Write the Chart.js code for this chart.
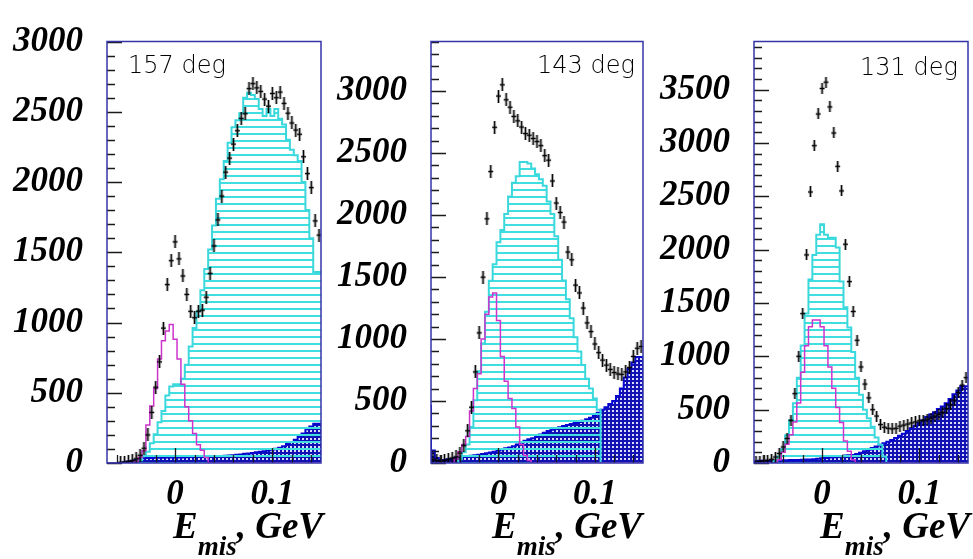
<!DOCTYPE html>
<html>
<head>
<meta charset="utf-8">
<script src="https://cdn.jsdelivr.net/npm/chart.js@4.4.1/dist/chart.umd.min.js"></script>
<style>
  body { margin: 0; background: #fff; }
  #lienzo { position: relative; width: 973px; height: 559px; overflow: hidden; background: #fff; }
  canvas { position: absolute; top: 0; }
  .angulo { position: absolute; font: 300 24px "DejaVu Sans", sans-serif; line-height: 1; color: #000; white-space: nowrap; }
  .titulo { position: absolute; top: 507px; font: italic bold 37px "Liberation Serif", serif; line-height: 1; color: #000; white-space: nowrap; }
  .titulo span { font-size: 27px; vertical-align: -17px; }
</style>
</head>
<body>
<div id="lienzo">
  <canvas id="c157" width="326" height="559" style="left:0px"></canvas>
  <canvas id="c143" width="322" height="559" style="left:326px"></canvas>
  <canvas id="c131" width="325" height="559" style="left:648px"></canvas>
  <div class="angulo" style="left:128px; top:53px">157 deg</div>
  <div class="angulo" style="left:537px; top:53px">143 deg</div>
  <div class="angulo" style="left:860px; top:55px">131 deg</div>
  <div class="titulo" style="right:650px">E<span>mis</span>, GeV</div>
  <div class="titulo" style="right:331px">E<span>mis</span>, GeV</div>
  <div class="titulo" style="right:3px">E<span>mis</span>, GeV</div>
</div>
<script>
// bins de E_mis: 55 bins de 0.004 GeV entre -0.07 y 0.15
const binLo = -0.07;
const binW = 0.004;
const xTicks = [0, 0.1];

// 157 deg
const datos157 = [0, 0, 0, 3, 6, 10, 18, 30, 55, 105, 200, 360, 540, 720, 960, 1270, 1440, 1574, 1453, 1331, 1200, 1080, 1034, 1080, 1088, 1180, 1350, 1545, 1730, 1900, 2070, 2170, 2270, 2365, 2453, 2486, 2665, 2700, 2670, 2645, 2590, 2540, 2630, 2600, 2640, 2560, 2490, 2420, 2370, 2340, 2180, 2060, 1960, 1723, 1622];
const ancho157 = [0, 0, 0, 0, 0, 0, 0, 0, 5, 20, 50, 80, 140, 205, 290, 370, 480, 545, 560, 560, 600, 700, 830, 960, 1080, 1230, 1380, 1520, 1690, 1880, 2020, 2150, 2280, 2390, 2440, 2490, 2600, 2635, 2620, 2590, 2520, 2470, 2520, 2470, 2520, 2450, 2410, 2300, 2230, 2190, 2150, 2000, 1800, 1600, 1360];
const pico157 = [0, 0, 0, 0, 0, 0, 0, 0, 10, 40, 88, 270, 405, 530, 740, 870, 940, 985, 880, 740, 560, 400, 300, 210, 130, 90, 40, 0, 0, 0, 0, 0, 0, 0, 0, 0, 0, 0, 0, 0, 0, 0, 0, 0, 0, 0, 0, 0, 0, 0, 0, 0, 0, 0, 0];
const fondo157 = [0, 0, 0, 0, 2, 5, 10, 15, 22, 28, 33, 35, 36, 37, 38, 38, 39, 40, 40, 40, 40, 41, 42, 43, 44, 45, 46, 47, 48, 49, 50, 52, 54, 56, 58, 60, 65, 68, 72, 76, 80, 84, 90, 96, 102, 108, 120, 135, 150, 165, 185, 210, 240, 260, 280];
const yTicks157 = [0, 500, 1000, 1500, 2000, 2500, 3000];

// 143 deg
const datos143 = [30, 20, 15, 20, 30, 40, 50, 80, 140, 260, 450, 735, 1050, 1499, 1970, 2351, 2708, 2960, 3051, 2930, 2870, 2796, 2760, 2710, 2657, 2644, 2618, 2593, 2560, 2479, 2443, 2275, 2097, 2021, 1944, 1702, 1639, 1435, 1372, 1250, 1130, 1060, 960, 890, 830, 790, 755, 730, 718, 715, 735, 770, 860, 926, 940];
const ancho143 = [0, 0, 0, 0, 0, 0, 0, 0, 30, 86, 150, 290, 506, 740, 964, 1221, 1470, 1603, 1780, 1880, 2008, 2150, 2260, 2313, 2427, 2427, 2415, 2376, 2330, 2288, 2237, 2109, 2008, 1830, 1640, 1473, 1321, 1168, 1015, 900, 790, 680, 600, 520, 430, 0, 0, 0, 0, 0, 0, 0, 0, 0, 0];
const pico143 = [0, 0, 0, 0, 0, 0, 0, 30, 90, 150, 214, 420, 600, 720, 1000, 1200, 1340, 1372, 1150, 860, 660, 520, 440, 290, 150, 60, 20, 0, 0, 0, 0, 0, 0, 0, 0, 0, 0, 0, 0, 0, 0, 0, 0, 0, 0, 0, 0, 0, 0, 0, 0, 0, 0, 0, 0];
const fondo143 = [470, 100, 40, 25, 25, 30, 35, 40, 45, 50, 55, 58, 62, 66, 72, 78, 84, 90, 100, 110, 118, 125, 135, 150, 165, 180, 192, 200, 215, 230, 245, 258, 268, 278, 288, 298, 306, 314, 322, 330, 340, 352, 365, 385, 405, 430, 450, 475, 500, 540, 600, 690, 760, 810, 855];
const yTicks143 = [0, 500, 1000, 1500, 2000, 2500, 3000];

// 131 deg
const datos131 = [10, 15, 20, 25, 35, 56, 90, 150, 230, 400, 650, 1000, 1400, 1950, 2540, 2974, 3271, 3510, 3569, 3337, 3093, 2780, 2550, 2050, 1700, 1420, 1150, 900, 740, 610, 500, 440, 360, 335, 325, 320, 325, 345, 355, 365, 375, 385, 395, 400, 410, 420, 440, 455, 475, 510, 545, 590, 660, 730, 800];
const ancho131 = [0, 0, 0, 0, 0, 0, 20, 60, 130, 260, 400, 560, 800, 1100, 1400, 1720, 1950, 2140, 2238, 2140, 2110, 2110, 2020, 1700, 1460, 1270, 1040, 800, 640, 500, 420, 340, 240, 170, 60, 0, 0, 0, 0, 0, 0, 0, 0, 0, 0, 0, 0, 0, 0, 0, 0, 0, 0, 0, 0];
const pico131 = [0, 0, 0, 0, 0, 0, 0, 30, 101, 176, 265, 384, 563, 850, 1098, 1277, 1340, 1340, 1277, 1098, 900, 700, 520, 380, 205, 110, 30, 0, 0, 0, 0, 0, 0, 0, 0, 0, 0, 0, 0, 0, 0, 0, 0, 0, 0, 0, 0, 0, 0, 0, 0, 0, 0, 0, 0];
const fondo131 = [10, 15, 20, 20, 20, 22, 23, 24, 25, 26, 27, 28, 29, 30, 32, 33, 35, 40, 45, 48, 52, 55, 60, 65, 70, 72, 75, 85, 95, 110, 125, 140, 155, 170, 185, 200, 215, 235, 255, 275, 300, 325, 350, 375, 400, 430, 455, 475, 505, 530, 560, 600, 645, 680, 720];
const yTicks131 = [0, 500, 1000, 1500, 2000, 2500, 3000, 3500];

const fuenteEjes = { family: '"Liberation Serif", "Times New Roman", serif', size: 35, style: 'italic', weight: 'bold', lineHeight: 1 };

// tramas de relleno
function tramaHorizontal() {
    const c = document.createElement('canvas');
    c.width = 8; c.height = 7;
    const g = c.getContext('2d');
    g.fillStyle = '#40dede';
    g.fillRect(0, 0, 8, 2);
    return g.createPattern(c, 'repeat');
}

function tramaRejilla() {
    const c = document.createElement('canvas');
    c.width = 4; c.height = 4;
    const g = c.getContext('2d');
    g.fillStyle = '#1212b4';
    g.fillRect(0, 0, 4, 4);
    g.fillStyle = '#dcdcf8';
    g.fillRect(2, 2, 2, 2);
    return g.createPattern(c, 'repeat');
}

function hacerCruz(alto) {
    const c = document.createElement('canvas');
    c.width = 7; c.height = alto;
    const g = c.getContext('2d');
    g.strokeStyle = '#000';
    g.lineWidth = 1.7;
    g.beginPath();
    g.moveTo(3.5, 0); g.lineTo(3.5, alto);
    g.moveTo(1, alto / 2); g.lineTo(6, alto / 2);
    g.stroke();
    return c;
}

// histograma -> puntos en los bordes de los bins (stepped 'after')
function pasos(arr) {
    const pts = arr.map((v, i) => ({ x: binLo + i * binW, y: v }));
    pts.push({ x: binLo + arr.length * binW, y: arr[arr.length - 1] });
    return pts;
}

function centros(arr) {
    return arr.map((v, i) => ({ x: binLo + (i + 0.5) * binW, y: v })).filter(p => p.y > 0);
}

const marco = {
    id: 'marco',
    afterDatasetsDraw(chart) {
        const { ctx, chartArea: a, scales: { x, y } } = chart;
        ctx.save();
        ctx.strokeStyle = '#1a1a1a';
        ctx.lineWidth = 1.3;
        ctx.beginPath();
        for (let v = 0; v <= y.max; v += 100) {
            const py = Math.round(y.getPixelForValue(v)) + 0.5;
            const largo = v % 500 === 0 ? 15 : 8;
            ctx.moveTo(a.left, py);
            ctx.lineTo(a.left + largo, py);
        }
        for (let k = -3; k <= 7; k++) {
            const px = Math.round(x.getPixelForValue(k * 0.02)) + 0.5;
            const largo = k % 5 === 0 ? 15 : 8;
            ctx.moveTo(px, a.bottom);
            ctx.lineTo(px, a.bottom - largo);
        }
        ctx.stroke();
        ctx.strokeStyle = '#3434a8';
        ctx.lineWidth = 1.5;
        ctx.strokeRect(a.left, a.top, a.right - a.left, a.bottom - a.top);
        ctx.restore();
    }
};

function dibujarPanel(id, cfg) {
    const cruz = hacerCruz(cfg.cruz);
    return new Chart(document.getElementById(id), {
        type: 'scatter',
        data: {
            datasets: [
                {
                    data: centros(cfg.datos),
                    pointStyle: cruz,
                    pointRadius: 4,
                    pointHoverRadius: 4
                },
                {
                    type: 'line',
                    data: pasos(cfg.pico),
                    stepped: 'after',
                    showLine: true,
                    borderColor: '#cc33cc',
                    borderWidth: 1.5,
                    fill: false,
                    pointRadius: 0
                },
                {
                    type: 'line',
                    data: pasos(cfg.ancho),
                    stepped: 'after',
                    showLine: true,
                    borderColor: '#3ad8dc',
                    borderWidth: 2,
                    backgroundColor: tramaHorizontal(),
                    fill: 'origin',
                    pointRadius: 0
                },
                {
                    type: 'line',
                    data: pasos(cfg.fondo),
                    stepped: 'after',
                    showLine: true,
                    borderColor: '#0606d0',
                    borderWidth: 2,
                    backgroundColor: tramaRejilla(),
                    fill: 'origin',
                    pointRadius: 0
                }
            ]
        },
        options: {
            responsive: false,
            animation: false,
            layout: { padding: { top: cfg.arriba, right: 4, left: 0, bottom: 0 } },
            plugins: { legend: { display: false }, tooltip: { enabled: false } },
            scales: {
                x: {
                    type: 'linear',
                    min: binLo,
                    max: binLo + 55 * binW,
                    grid: { display: false, drawTicks: false },
                    border: { display: false },
                    afterBuildTicks: s => { s.ticks = xTicks.map(v => ({ value: v })); },
                    afterFit: s => { s.height = 96; },
                    ticks: { font: fuenteEjes, color: '#000', padding: 14, maxRotation: 0, autoSkip: false, callback: v => String(v) }
                },
                y: {
                    min: 0,
                    max: cfg.ymax,
                    grid: { display: false, drawTicks: false },
                    border: { display: false },
                    afterBuildTicks: s => { s.ticks = cfg.yTicks.map(v => ({ value: v })); },
                    afterFit: s => { s.width = cfg.anchoY; },
                    ticks: { font: fuenteEjes, color: '#000', padding: 24, autoSkip: false, callback: v => String(v) }
                }
            }
        },
        plugins: [marco]
    });
}

dibujarPanel('c157', { datos: datos157, ancho: ancho157, pico: pico157, fondo: fondo157, yTicks: yTicks157, ymax: 3000, arriba: 20, anchoY: 107, cruz: 13 });
dibujarPanel('c143', { datos: datos143, ancho: ancho143, pico: pico143, fondo: fondo143, yTicks: yTicks143, ymax: 3400, arriba: 21, anchoY: 105, cruz: 13 });
dibujarPanel('c131', { datos: datos131, ancho: ancho131, pico: pico131, fondo: fondo131, yTicks: yTicks131, ymax: 3950, arriba: 21, anchoY: 106, cruz: 11 });
</script>
</body>
</html>
